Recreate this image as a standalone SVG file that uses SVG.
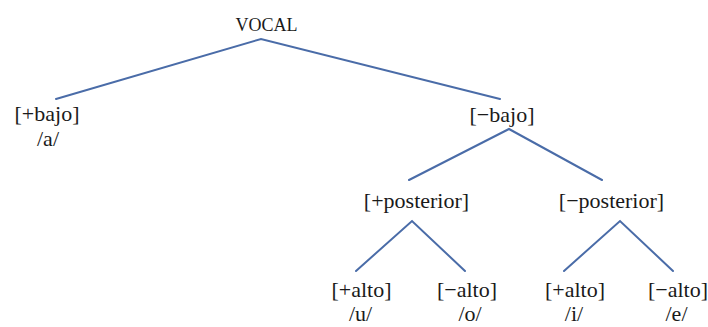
<svg xmlns="http://www.w3.org/2000/svg" width="708" height="327" viewBox="0 0 708 327">
<style>
text{font-family:"Liberation Serif","Times New Roman","DejaVu Serif",serif;font-size:22px;fill:#1a1a1a;text-anchor:middle}
.root{font-size:18px}
.edge{stroke:#4a6ca8;stroke-width:2;fill:none;stroke-linecap:round}
</style>
<rect width="708" height="327" fill="#ffffff"/>
<g id="connectors">
<path class="edge" d="M56,99 L261,39 L500,99"/>
<path class="edge" d="M409,180 L509,129 L602,180"/>
<path class="edge" d="M356,271 L412,221 L465,271"/>
<path class="edge" d="M564,271 L620,221 L673,271"/>
</g>
<g id="vocal"><text class="root" x="266.5" y="31">VOCAL</text></g>
<g id="mas-bajo"><text x="47" y="121">[+bajo]</text><text x="48" y="146">/a/</text></g>
<g id="menos-bajo"><text x="502" y="122">[−bajo]</text></g>
<g id="mas-posterior"><text x="416.5" y="208">[+posterior]</text></g>
<g id="menos-posterior"><text x="611.5" y="208">[−posterior]</text></g>
<g id="mas-alto-u"><text x="361.5" y="297">[+alto]</text><text x="360.5" y="321">/u/</text></g>
<g id="menos-alto-o"><text x="467" y="297">[−alto]</text><text x="470" y="321">/o/</text></g>
<g id="mas-alto-i"><text x="575" y="297">[+alto]</text><text x="574" y="321">/i/</text></g>
<g id="menos-alto-e"><text x="678" y="297">[−alto]</text><text x="676.5" y="321">/e/</text></g>
</svg>
